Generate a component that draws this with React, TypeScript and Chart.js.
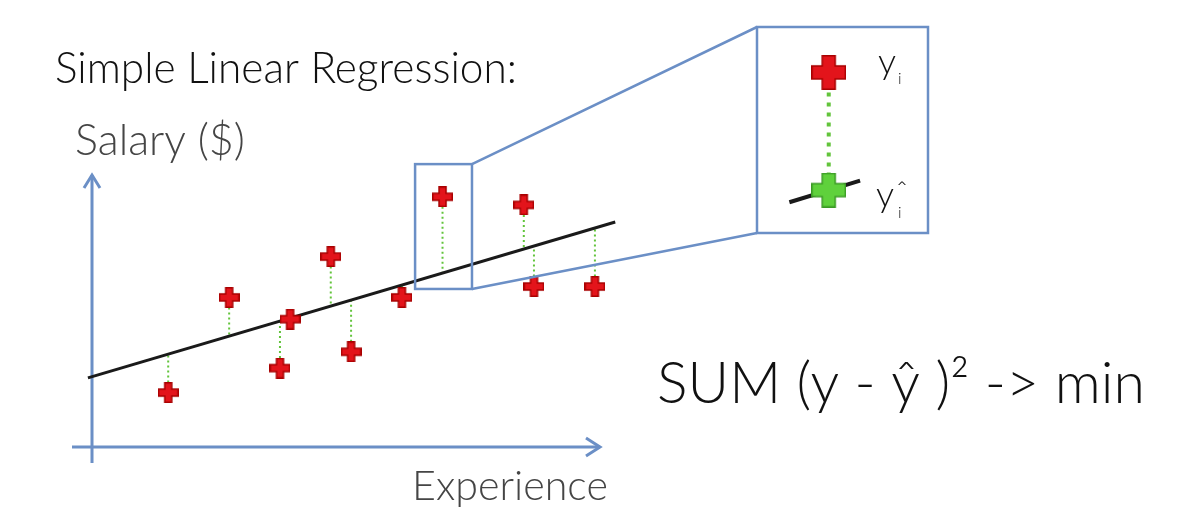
import React, { useEffect, useRef } from 'react';
import { Chart, registerables } from 'chart.js';

Chart.register(...registerables);

// ---- data (experience / salary in abstract units) ----
const experience = [1.5, 2.7, 3.7, 3.9, 4.7, 5.1, 6.1, 6.9, 8.5, 8.7, 9.9];
const salary = [2.0, 5.5, 2.9, 4.7, 7.0, 3.5, 5.5, 9.2, 8.9, 5.9, 5.9];
const fitted = [3.41, 4.07, 4.62, 4.73, 5.17, 5.4, 5.95, 6.39, 7.27, 7.38, 8.04];
const lineX = [-0.08, 10.3];
const lineY = [2.54, 8.27];
const axisRange = [0, 10];
const zoomIndex = 7;
const zoomBoxX = [6.36, 7.48];
const zoomBoxY = [5.81, 10.4];
const insetXRange = [6.21, 7.95];
const insetYRange = [5.82, 9.83];
const insetLineX = [6.385, 7.31];
const insetLineY = [6.1, 6.615];

const titleText = 'Simple Linear Regression:';
const yAxisTitle = 'Salary ($)';
const xAxisTitle = 'Experience';
const formulaText = 'SUM (y - ŷ )² -> min';

const BLUE = '#6b8fc6';
const FONT = 'Lato, "Open Sans", sans-serif';

function makePlus(size: number, arm: number, fill: string, stroke: string, lw: number) {
  const c = document.createElement('canvas');
  c.width = size;
  c.height = size;
  const g = c.getContext('2d')!;
  const a = (size - arm) / 2;
  const b = a + arm;
  const h = lw / 2;
  g.beginPath();
  g.moveTo(a, h);
  g.lineTo(b, h);
  g.lineTo(b, a);
  g.lineTo(size - h, a);
  g.lineTo(size - h, b);
  g.lineTo(b, b);
  g.lineTo(b, size - h);
  g.lineTo(a, size - h);
  g.lineTo(a, b);
  g.lineTo(h, b);
  g.lineTo(h, a);
  g.lineTo(a, a);
  g.closePath();
  g.fillStyle = fill;
  g.fill();
  g.lineWidth = lw;
  g.strokeStyle = stroke;
  g.lineJoin = 'miter';
  g.stroke();
  return c;
}

function fitText(ctx: CanvasRenderingContext2D, text: string, x: number, y: number, width: number, base: number, color: string) {
  ctx.font = `300 ${base}px ${FONT}`;
  const w = ctx.measureText(text).width;
  const size = (base * width) / w;
  ctx.font = `300 ${size}px ${FONT}`;
  ctx.fillStyle = color;
  ctx.textBaseline = 'alphabetic';
  ctx.textAlign = 'left';
  ctx.fillText(text, x, y);
}

const axesPlugin = {
  id: 'axesDecor',
  beforeDatasetsDraw(chart: any) {
    const { ctx, chartArea } = chart;
    ctx.save();
    ctx.strokeStyle = BLUE;
    ctx.lineWidth = 3;
    ctx.lineCap = 'butt';
    const l = chartArea.left, b = chartArea.bottom, t = chartArea.top, r = chartArea.right;
    // y axis
    ctx.beginPath();
    ctx.moveTo(l, b + 16);
    ctx.lineTo(l, t);
    ctx.stroke();
    ctx.beginPath();
    ctx.moveTo(l - 8, t + 13);
    ctx.lineTo(l, t);
    ctx.lineTo(l + 8, t + 13);
    ctx.stroke();
    // x axis
    ctx.beginPath();
    ctx.moveTo(l - 20, b);
    ctx.lineTo(r, b);
    ctx.stroke();
    ctx.beginPath();
    ctx.moveTo(r - 14, b - 9);
    ctx.lineTo(r, b);
    ctx.lineTo(r - 14, b + 9);
    ctx.stroke();
    ctx.restore();
  },
  afterDatasetsDraw(chart: any) {
    const { ctx } = chart;
    const xs = chart.scales.x, ys = chart.scales.y;
    const x0 = xs.getPixelForValue(zoomBoxX[0]);
    const x1 = xs.getPixelForValue(zoomBoxX[1]);
    const y0 = ys.getPixelForValue(zoomBoxY[1]);
    const y1 = ys.getPixelForValue(zoomBoxY[0]);
    ctx.save();
    ctx.strokeStyle = BLUE;
    ctx.lineWidth = 2.5;
    ctx.strokeRect(x0, y0, x1 - x0, y1 - y0);
    // inset frame
    const ix0 = 757, iy0 = 27, ix1 = 928, iy1 = 233;
    ctx.strokeRect(ix0, iy0, ix1 - ix0, iy1 - iy0);
    ctx.beginPath();
    ctx.moveTo(x1, y0);
    ctx.lineTo(ix0, iy0);
    ctx.moveTo(x1, y1);
    ctx.lineTo(ix0, iy1);
    ctx.stroke();
    ctx.restore();
  },
  afterDraw(chart: any) {
    const { ctx } = chart;
    ctx.save();
    fitText(ctx, titleText, 55, 83, 462, 34, '#111111');
    fitText(ctx, yAxisTitle, 75, 155, 170, 31, '#454545');
    fitText(ctx, xAxisTitle, 412, 500, 196, 34, '#454545');
    fitText(ctx, formulaText, 657, 403, 488, 52, '#111111');
    // inset labels
    ctx.fillStyle = '#111111';
    ctx.textAlign = 'left';
    ctx.textBaseline = 'alphabetic';
    ctx.font = `300 36px ${FONT}`;
    ctx.fillText('y', 878, 74);
    ctx.fillText('y', 876, 207);
    ctx.font = `300 16px ${FONT}`;
    ctx.fillText('i', 898, 84);
    ctx.fillText('i', 898, 218);
    ctx.font = `300 30px ${FONT}`;
    ctx.fillText('ˆ', 896, 202);
    ctx.restore();
  },
};

export default function App() {
  const mainRef = useRef<HTMLCanvasElement>(null);
  const insetRef = useRef<HTMLCanvasElement>(null);

  useEffect(() => {
    const redSmall = makePlus(21, 7, '#e3141b', '#a80000', 1.5);
    const redBig = makePlus(35, 13, '#e3141b', '#a80000', 1.5);
    const greenBig = makePlus(35, 13, '#5fd13c', '#3b9a25', 1.5);

    const residualData: any[] = [];
    experience.forEach((x, i) => {
      residualData.push({ x, y: salary[i] });
      residualData.push({ x, y: fitted[i] });
      residualData.push({ x, y: null });
    });

    const main = new Chart(mainRef.current!, {
      type: 'scatter',
      data: {
        datasets: [
          {
            label: 'Observed salary',
            data: experience.map((x, i) => ({ x, y: salary[i] })),
            pointStyle: redSmall as any,
            pointRadius: 10,
            showLine: false,
            clip: false as any,
            order: 0,
          },
          {
            label: 'Regression line',
            data: lineX.map((x, i) => ({ x, y: lineY[i] })),
            showLine: true,
            borderColor: '#1a1a1a',
            borderWidth: 3,
            pointRadius: 0,
            clip: false as any,
            order: 1,
          },
          {
            label: 'Residuals',
            data: residualData,
            showLine: true,
            spanGaps: false,
            borderColor: '#62c43b',
            borderWidth: 2,
            borderDash: [2, 3],
            pointRadius: 0,
            clip: false as any,
            order: 2,
          },
        ],
      },
      options: {
        responsive: false,
        animation: false,
        layout: { padding: { left: 92, right: 600, top: 175, bottom: 76 } },
        scales: {
          x: { type: 'linear', min: axisRange[0], max: axisRange[1], display: false },
          y: { type: 'linear', min: axisRange[0], max: axisRange[1], display: false },
        },
        plugins: { legend: { display: false }, tooltip: { enabled: false } },
      },
      plugins: [axesPlugin],
    });

    const inset = new Chart(insetRef.current!, {
      type: 'scatter',
      data: {
        datasets: [
          {
            label: 'Observed y',
            data: [{ x: experience[zoomIndex], y: salary[zoomIndex] }],
            pointStyle: redBig as any,
            pointRadius: 17,
            showLine: false,
            order: 0,
          },
          {
            label: 'Fitted y',
            data: [{ x: experience[zoomIndex], y: fitted[zoomIndex] }],
            pointStyle: greenBig as any,
            pointRadius: 17,
            showLine: false,
            order: 1,
          },
          {
            label: 'Regression',
            data: insetLineX.map((x, i) => ({ x, y: insetLineY[i] })),
            showLine: true,
            borderColor: '#1a1a1a',
            borderWidth: 4,
            pointRadius: 0,
            order: 2,
          },
          {
            label: 'Residual',
            data: [
              { x: experience[zoomIndex], y: salary[zoomIndex] },
              { x: experience[zoomIndex], y: fitted[zoomIndex] },
            ],
            showLine: true,
            borderColor: '#62c43b',
            borderWidth: 4,
            borderDash: [4, 6],
            pointRadius: 0,
            order: 3,
          },
        ],
      },
      options: {
        responsive: false,
        animation: false,
        layout: { padding: 0 },
        scales: {
          x: { type: 'linear', min: insetXRange[0], max: insetXRange[1], display: false },
          y: { type: 'linear', min: insetYRange[0], max: insetYRange[1], display: false },
        },
        plugins: { legend: { display: false }, tooltip: { enabled: false } },
      },
    });

    let alive = true;
    if ((document as any).fonts && (document as any).fonts.load) {
      Promise.all([
        (document as any).fonts.load(`32px Lato`),
        (document as any).fonts.load(`300 32px Lato`),
      ]).then(() => {
        if (alive) main.draw();
      });
    }

    return () => {
      alive = false;
      main.destroy();
      inset.destroy();
    };
  }, []);

  return (
    <div style={{ position: 'fixed', left: 0, top: 0, width: 1200, height: 523, background: '#ffffff' }}>
      <canvas ref={mainRef} width={1200} height={523} style={{ position: 'absolute', left: 0, top: 0 }} />
      <canvas ref={insetRef} width={169} height={204} style={{ position: 'absolute', left: 758, top: 28 }} />
    </div>
  );
}
